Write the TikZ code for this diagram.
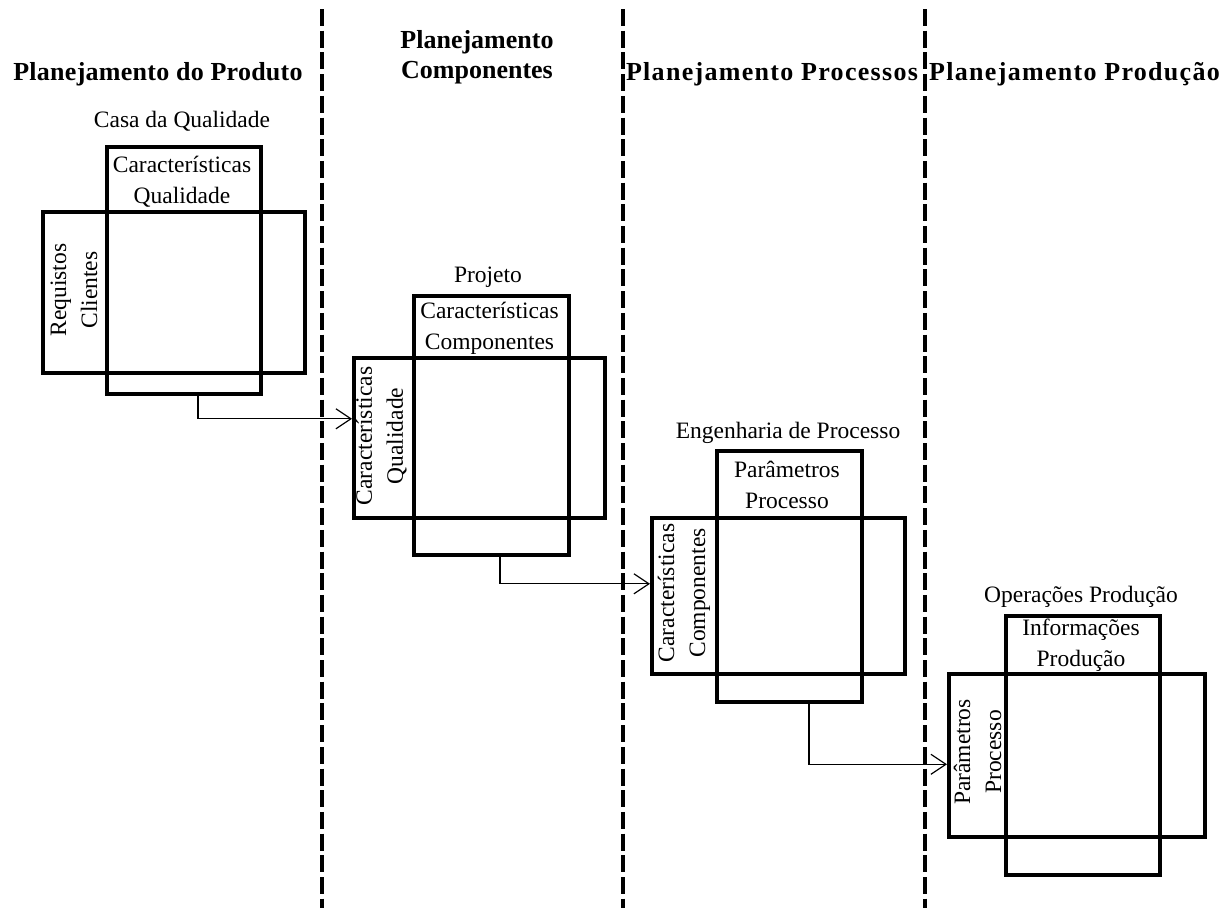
\documentclass[tikz,border=0pt]{standalone}
\usepackage{fontspec}
\setmainfont{Liberation Serif}
\usetikzlibrary{arrows.meta}

\tikzset{
  box/.style={draw, line width=3.6pt, inner sep=0pt, anchor=north west},
  lbl/.style={inner sep=0pt, align=center, font=\fontsize{23.5}{31}\selectfont},
  vlbl/.style={lbl, rotate=90},
  head/.style={inner sep=0pt, align=center, font=\fontsize{26}{30}\selectfont\bfseries},
  widehead/.style={head, font=\fontsize{26}{30}\selectfont\bfseries\addfontfeature{LetterSpace=5}},
  divider/.style={line width=3.6pt, dash pattern=on 17pt off 4.7pt},
  arr/.style={line width=1.2pt, -{Straight Barb[length=15pt, width=20pt, line width=1.2pt]}},
}

\begin{document}
\begin{tikzpicture}[x=1pt, y=-1pt]
  \useasboundingbox (0,0) rectangle (1219,908);

  % phase dividers
  \coordinate (d1t) at (322,9);   \coordinate (d1b) at (322,908);
  \coordinate (d2t) at (623,9);   \coordinate (d2b) at (623,908);
  \coordinate (d3t) at (925,9);   \coordinate (d3b) at (925,908);
  \draw[divider] (d1t) -- (d1b);
  \draw[divider] (d2t) -- (d2b);
  \draw[divider] (d3t) -- (d3b);

  % phase headings
  \node[head, font=\fontsize{26}{30}\selectfont\bfseries\addfontfeature{LetterSpace=1}] (h1) at (158,74) {Planejamento do Produto};
  \node[head] (h2) at (477,57) {Planejamento\\Componentes};
  \node[widehead] (h3) at (772,74) {Planejamento Processos};
  \node[widehead, anchor=west] (h4) at (929,74) {Planejamento Produção};

  % matrix 1: house of quality
  \node[box, minimum width=154pt, minimum height=247pt] (t1) at (105,145) {};
  \node[box, minimum width=262pt, minimum height=161pt] (w1) at (41,210) {};
  \node[lbl] (n1) at (182,121) {Casa da Qualidade};
  \node[lbl] (c1) at (182,181.5) {Características\\Qualidade};
  \node[vlbl] (r1) at (74,290) {Requistos\\Clientes};

  % matrix 2: design
  \node[box, minimum width=155pt, minimum height=259pt] (t2) at (412,294) {};
  \node[box, minimum width=251pt, minimum height=160pt] (w2) at (352,356) {};
  \node[lbl] (n2) at (488,277) {Projeto};
  \node[lbl] (c2) at (489.5,328) {Características\\Componentes};
  \node[vlbl] (r2) at (381,436) {Características\\Qualidade};

  % matrix 3: process engineering
  \node[box, minimum width=145pt, minimum height=251pt] (t3) at (715,449) {};
  \node[box, minimum width=253pt, minimum height=156pt] (w3) at (650,516) {};
  \node[lbl] (n3) at (788,433) {Engenharia de Processo};
  \node[lbl] (c3) at (787,485) {Parâmetros\\Processo};
  \node[vlbl] (r3) at (684,593) {Características\\Componentes};

  % matrix 4: production operations
  \node[box, minimum width=154pt, minimum height=259pt] (t4) at (1004,614) {};
  \node[box, minimum width=256pt, minimum height=163pt] (w4) at (947,672) {};
  \node[lbl] (n4) at (1081,597) {Operações Produção};
  \node[lbl] (c4) at (1081,645) {Informações\\Produção};
  \node[vlbl] (r4) at (977.5,752) {Parâmetros\\Processo};

  % deployment links between matrices
  \draw[arr] ([xshift=93pt]t1.south west) |- ([yshift=19pt]w2.west);
  \draw[arr] ([xshift=88pt]t2.south west) |- ([yshift=12pt]w3.west);
  \draw[arr] ([xshift=94pt]t3.south west) |- ([yshift=-9pt]w4.west);
\end{tikzpicture}
\end{document}
